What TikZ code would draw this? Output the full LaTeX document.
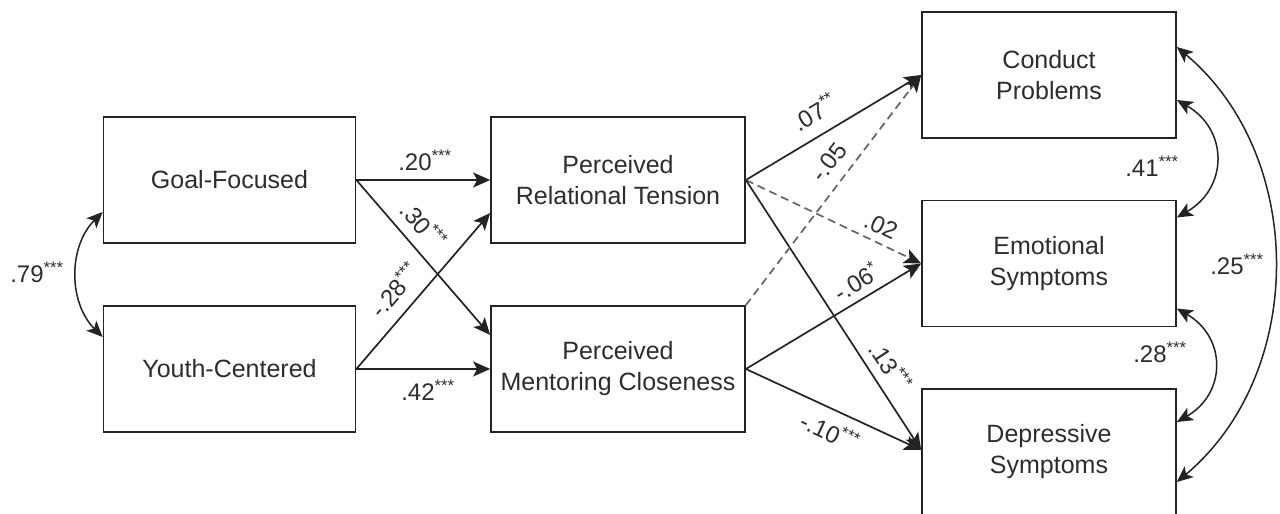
\documentclass[tikz,border=0pt]{standalone}
\usepackage{fontspec}
\setmainfont{Liberation Sans}
\usetikzlibrary{arrows.meta}
\definecolor{ink}{RGB}{35,35,35}
\definecolor{txt}{RGB}{45,45,45}
\definecolor{dashgray}{RGB}{100,100,100}
\tikzset{
  box/.style={draw=ink, line width=1.7pt, minimum width=252pt, minimum height=126pt,
    inner sep=0pt, align=center, text=txt, font=\fontsize{25}{31}\selectfont},
  regpath/.style={draw=ink, line width=1.7pt, -{Stealth[length=17pt,width=15pt,inset=4pt]}},
  nspath/.style={draw=dashgray, line width=1.7pt, dash pattern=on 8pt off 5pt,
    -{Stealth[length=17pt,width=15pt,inset=4pt,color=ink]}},
  cov/.style={draw=ink, line width=1.5pt,
    {Stealth[length=16pt,width=14pt,inset=4pt]}-{Stealth[length=16pt,width=14pt,inset=4pt]}},
  lab/.style={text=txt, inner sep=0pt, font=\fontsize{24}{28}\selectfont},
}
\newcommand{\sig}[1]{\textsuperscript{#1}}
\begin{document}
\begin{tikzpicture}[x=1pt, y=-1pt]
\useasboundingbox (0,0) rectangle (1280,514);

% predictors
\node[box] (goal)  at (229.5,180) {Goal-Focused};
\node[box] (youth) at (229.5,369) {Youth-Centered};

% mediators
\node[box, minimum width=254pt] (tension)   at (618,180) {Perceived\\Relational Tension};
\node[box, minimum width=254pt] (closeness) at (618,369) {Perceived\\Mentoring Closeness};

% outcomes
\node[box, minimum width=254pt] (conduct)    at (1049,75)    {Conduct\\Problems};
\node[box, minimum width=254pt] (emotional)  at (1049,263.5) {Emotional\\Symptoms};
\node[box, minimum width=254pt] (depressive) at (1049,452)   {Depressive\\Symptoms};

% predictors -> mediators
\draw[regpath] (goal.east) -- (tension.west);
\draw[regpath] (goal.east) -- ([yshift=34pt]closeness.west);
\draw[regpath] (youth.east) -- ([yshift=-33pt]tension.west);
\draw[regpath] (youth.east) -- (closeness.west);

% mediators -> outcomes
\draw[regpath] (tension.east) -- (conduct.west);
\draw[nspath]  (tension.east) -- (emotional.west);
\draw[regpath] (tension.east) -- ([yshift=2pt]depressive.west);
\draw[nspath]  (closeness.north east) -- (conduct.west);
\draw[regpath] (closeness.east) -- (emotional.west);
\draw[regpath] (closeness.east) -- ([yshift=2pt]depressive.west);

% covariances
\draw[cov] ([yshift=-32pt]goal.west) to[bend right=45] ([yshift=32pt]youth.west);
\draw[cov] ([yshift=-25pt]conduct.east) to[bend left=60, looseness=1.3] ([yshift=46pt]emotional.east);
\draw[cov] ([yshift=-45pt]emotional.east) to[bend left=60, looseness=1.3] ([yshift=30pt]depressive.east);
\draw[cov] ([yshift=28pt]conduct.east) to[bend left=50] ([yshift=-30pt]depressive.east);

% coefficients
\node[lab] (c79) at (37,272) {.79\sig{***}};
\node[lab] (c20) at (425,160) {.20\sig{***}};
\node[lab, rotate=-48.7] (c30) at (424,225) {.30\sig{***}};
\node[lab, rotate=48.7] (c28a) at (394,290) {-.28\sig{***}};
\node[lab] (c42) at (428,390) {.42\sig{***}};
\node[lab, rotate=30.7] (c07) at (814,112) {.07\sig{**}};
\node[lab, rotate=52.4] (c05) at (829,162) {-.05};
\node[lab, rotate=-25] (c02) at (881,226) {.02};
\node[lab, rotate=30.7] (c06) at (856,281) {-.06\sig{*}};
\node[lab, rotate=-56.7] (c13) at (891,366) {.13\sig{***}};
\node[lab, rotate=-25] (c10) at (830,431) {-.10\sig{***}};
\node[lab] (c41) at (1152,166) {.41\sig{***}};
\node[lab] (c28b) at (1160,352) {.28\sig{***}};
\node[lab] (c25) at (1237,264) {.25\sig{***}};
\end{tikzpicture}
\end{document}
